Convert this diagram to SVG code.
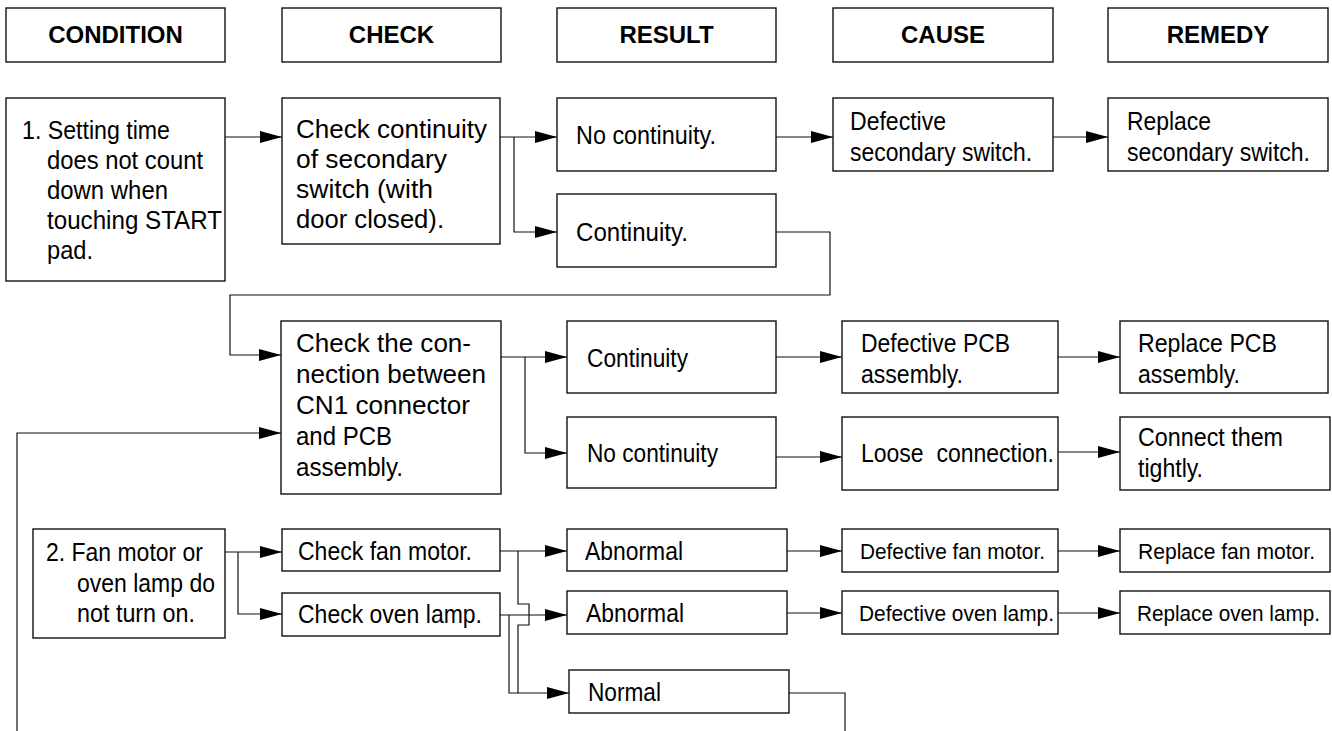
<svg xmlns="http://www.w3.org/2000/svg" width="1332" height="731" viewBox="0 0 1332 731">
<style>
.bx{fill:#fff;stroke:#111;stroke-width:1.4}
.hd{font-family:"Liberation Sans",Arial,sans-serif;font-weight:bold;font-size:24px;fill:#000;text-anchor:middle}
.t{font-family:"Liberation Sans",Arial,sans-serif;font-size:25.5px;fill:#000}
.s{font-size:22px}
.cn{fill:none;stroke:#111;stroke-width:1.2}
</style>
<defs>
<marker id="ah" markerUnits="userSpaceOnUse" markerWidth="23" markerHeight="13" refX="22" refY="6.5" orient="auto">
<path d="M0,0.5 L22,6.5 L0,12.5 Z" fill="#000"/>
</marker>
</defs>
<rect width="1332" height="731" fill="#fff"/>

<g id="h-condition"><rect class="bx" x="6" y="8" width="219" height="54"/><text class="hd" x="115.5" y="43">CONDITION</text></g>
<g id="h-check"><rect class="bx" x="282" y="8" width="219" height="54"/><text class="hd" x="391.5" y="43">CHECK</text></g>
<g id="h-result"><rect class="bx" x="557" y="8" width="219" height="54"/><text class="hd" x="666.5" y="43">RESULT</text></g>
<g id="h-cause"><rect class="bx" x="833" y="8" width="220" height="54"/><text class="hd" x="943" y="43">CAUSE</text></g>
<g id="h-remedy"><rect class="bx" x="1108" y="8" width="220" height="54"/><text class="hd" x="1218" y="43">REMEDY</text></g>

<g id="cond1"><rect class="bx" x="6" y="98" width="219" height="183"/>
<text class="t" x="22" y="139" textLength="148" lengthAdjust="spacingAndGlyphs">1. Setting time</text>
<text class="t" x="47" y="169" textLength="156" lengthAdjust="spacingAndGlyphs">does not count</text>
<text class="t" x="47" y="199" textLength="121" lengthAdjust="spacingAndGlyphs">down when</text>
<text class="t" x="47" y="229" textLength="175" lengthAdjust="spacingAndGlyphs">touching START</text>
<text class="t" x="47" y="259" textLength="46" lengthAdjust="spacingAndGlyphs">pad.</text></g>
<g id="check1"><rect class="bx" x="282" y="98" width="218" height="146"/>
<text class="t" x="296" y="138" textLength="191" lengthAdjust="spacingAndGlyphs">Check continuity</text>
<text class="t" x="296" y="168" textLength="151" lengthAdjust="spacingAndGlyphs">of secondary</text>
<text class="t" x="296" y="198" textLength="137" lengthAdjust="spacingAndGlyphs">switch (with</text>
<text class="t" x="296" y="228" textLength="148" lengthAdjust="spacingAndGlyphs">door closed).</text></g>
<g id="res-nocont1"><rect class="bx" x="557" y="98" width="219" height="73"/><text class="t" x="576" y="144" textLength="140" lengthAdjust="spacingAndGlyphs">No continuity.</text></g>
<g id="res-cont1"><rect class="bx" x="557" y="194" width="219" height="73"/><text class="t" x="576" y="241" textLength="112" lengthAdjust="spacingAndGlyphs">Continuity.</text></g>
<g id="cause1"><rect class="bx" x="833" y="98" width="220" height="73"/>
<text class="t" x="850" y="130" textLength="96" lengthAdjust="spacingAndGlyphs">Defective</text>
<text class="t" x="850" y="161" textLength="182" lengthAdjust="spacingAndGlyphs">secondary switch.</text></g>
<g id="remedy1"><rect class="bx" x="1108" y="98" width="220" height="73"/>
<text class="t" x="1127" y="130" textLength="84" lengthAdjust="spacingAndGlyphs">Replace</text>
<text class="t" x="1127" y="161" textLength="183" lengthAdjust="spacingAndGlyphs">secondary switch.</text></g>

<g id="check2"><rect class="bx" x="281" y="321" width="220" height="173"/>
<text class="t" x="296" y="352" textLength="175" lengthAdjust="spacingAndGlyphs">Check the con-</text>
<text class="t" x="296" y="383" textLength="190" lengthAdjust="spacingAndGlyphs">nection between</text>
<text class="t" x="296" y="414" textLength="174" lengthAdjust="spacingAndGlyphs">CN1 connector</text>
<text class="t" x="296" y="445" textLength="96" lengthAdjust="spacingAndGlyphs">and PCB</text>
<text class="t" x="296" y="476" textLength="107" lengthAdjust="spacingAndGlyphs">assembly.</text></g>
<g id="res-cont2"><rect class="bx" x="567" y="321" width="209" height="72"/><text class="t" x="587" y="367" textLength="101" lengthAdjust="spacingAndGlyphs">Continuity</text></g>
<g id="res-nocont2"><rect class="bx" x="567" y="417" width="209" height="71"/><text class="t" x="587" y="462" textLength="131" lengthAdjust="spacingAndGlyphs">No continuity</text></g>
<g id="cause2"><rect class="bx" x="842" y="321" width="216" height="72"/>
<text class="t" x="861" y="352" textLength="149" lengthAdjust="spacingAndGlyphs">Defective PCB</text>
<text class="t" x="861" y="383" textLength="102" lengthAdjust="spacingAndGlyphs">assembly.</text></g>
<g id="cause3"><rect class="bx" x="842" y="417" width="216" height="73"/><text class="t" x="861" y="462" textLength="193" lengthAdjust="spacingAndGlyphs" xml:space="preserve">Loose  connection.</text></g>
<g id="remedy2"><rect class="bx" x="1120" y="321" width="208" height="72"/>
<text class="t" x="1138" y="352" textLength="139" lengthAdjust="spacingAndGlyphs">Replace PCB</text>
<text class="t" x="1138" y="383" textLength="102" lengthAdjust="spacingAndGlyphs">assembly.</text></g>
<g id="remedy3"><rect class="bx" x="1120" y="417" width="210" height="73"/>
<text class="t" x="1138" y="446" textLength="145" lengthAdjust="spacingAndGlyphs">Connect them</text>
<text class="t" x="1138" y="477" textLength="65" lengthAdjust="spacingAndGlyphs">tightly.</text></g>

<g id="cond2"><rect class="bx" x="33" y="529" width="192" height="109"/>
<text class="t" x="46" y="561" textLength="157" lengthAdjust="spacingAndGlyphs">2. Fan motor or</text>
<text class="t" x="77" y="592" textLength="138" lengthAdjust="spacingAndGlyphs">oven lamp do</text>
<text class="t" x="77" y="622" textLength="118" lengthAdjust="spacingAndGlyphs">not turn on.</text></g>
<g id="check-fan"><rect class="bx" x="282" y="529" width="218" height="42"/><text class="t" x="298" y="560" textLength="174" lengthAdjust="spacingAndGlyphs">Check fan motor.</text></g>
<g id="check-lamp"><rect class="bx" x="282" y="593" width="218" height="43"/><text class="t" x="298" y="623" textLength="184" lengthAdjust="spacingAndGlyphs">Check oven lamp.</text></g>
<g id="res-abn1"><rect class="bx" x="567" y="529" width="220" height="42"/><text class="t" x="585" y="560" textLength="98" lengthAdjust="spacingAndGlyphs">Abnormal</text></g>
<g id="res-abn2"><rect class="bx" x="567" y="591" width="220" height="43"/><text class="t" x="586" y="622" textLength="98" lengthAdjust="spacingAndGlyphs">Abnormal</text></g>
<g id="res-normal"><rect class="bx" x="569" y="670" width="220" height="43"/><text class="t" x="588" y="701" textLength="73" lengthAdjust="spacingAndGlyphs">Normal</text></g>
<g id="cause-fan"><rect class="bx" x="842" y="529" width="216" height="43"/><text class="t s" x="860" y="559" textLength="185" lengthAdjust="spacingAndGlyphs">Defective fan motor.</text></g>
<g id="cause-lamp"><rect class="bx" x="842" y="591" width="216" height="43"/><text class="t s" x="859" y="621" textLength="195" lengthAdjust="spacingAndGlyphs">Defective oven lamp.</text></g>
<g id="remedy-fan"><rect class="bx" x="1120" y="529" width="210" height="43"/><text class="t s" x="1138" y="559" textLength="177" lengthAdjust="spacingAndGlyphs">Replace fan motor.</text></g>
<g id="remedy-lamp"><rect class="bx" x="1120" y="591" width="210" height="43"/><text class="t s" x="1137" y="621" textLength="183" lengthAdjust="spacingAndGlyphs">Replace oven lamp.</text></g>

<g id="connectors" class="cn">
<path class="cn" d="M225,137 H282" marker-end="url(#ah)"/>
<path class="cn" d="M500,137 H557" marker-end="url(#ah)"/>
<path class="cn" d="M514,137 V232 H557" marker-end="url(#ah)"/>
<path class="cn" d="M776,137 H833" marker-end="url(#ah)"/>
<path class="cn" d="M1053,137 H1108" marker-end="url(#ah)"/>
<path class="cn" d="M776,232 H830 V295 H230 V355 H281" marker-end="url(#ah)"/>
<path class="cn" d="M501,357 H567" marker-end="url(#ah)"/>
<path class="cn" d="M525,357 V453 H567" marker-end="url(#ah)"/>
<path class="cn" d="M776,357 H842" marker-end="url(#ah)"/>
<path class="cn" d="M1058,357 H1120" marker-end="url(#ah)"/>
<path class="cn" d="M776,457 H842" marker-end="url(#ah)"/>
<path class="cn" d="M1058,452 H1120" marker-end="url(#ah)"/>
<path class="cn" d="M17,731 V433 H281" marker-end="url(#ah)"/>
<path class="cn" d="M225,552 H282" marker-end="url(#ah)"/>
<path class="cn" d="M238,552 V614 H282" marker-end="url(#ah)"/>
<path class="cn" d="M500,551 H567" marker-end="url(#ah)"/>
<path class="cn" d="M518,551 V604 H529 V625 H518 V693 H569" marker-end="url(#ah)"/>
<path class="cn" d="M500,615 H567" marker-end="url(#ah)"/>
<path class="cn" d="M509,615 V693 H518"/>
<path class="cn" d="M787,551 H842" marker-end="url(#ah)"/>
<path class="cn" d="M787,613 H842" marker-end="url(#ah)"/>
<path class="cn" d="M1058,551 H1120" marker-end="url(#ah)"/>
<path class="cn" d="M1058,613 H1120" marker-end="url(#ah)"/>
<path class="cn" d="M789,693 H845 V731"/>
</g>
</svg>
